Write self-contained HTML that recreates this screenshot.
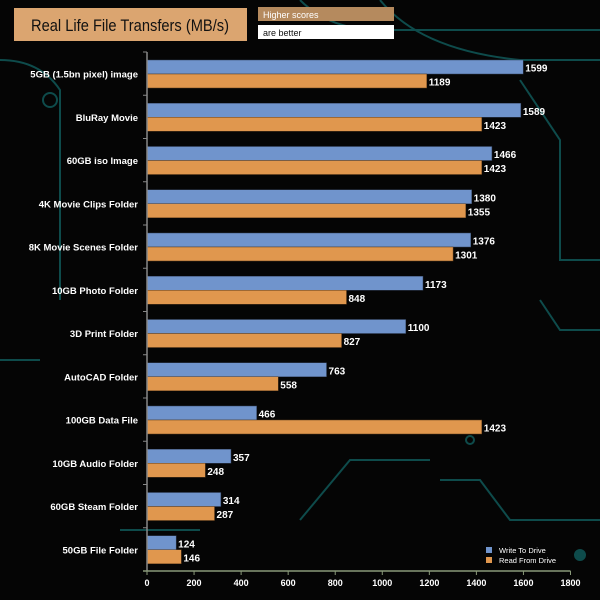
<!DOCTYPE html>
<html><head><meta charset="utf-8"><style>
body{margin:0;background:#050505;width:600px;height:600px;overflow:hidden;font-family:"Liberation Sans",sans-serif}
svg{display:block}
</style></head><body>
<svg id="c" width="600" height="600">
<rect width="600" height="600" fill="#050505"/>
<g fill="none" stroke="#0e4b4b" stroke-width="2">
<path d="M0 60 Q40 60 60 90 L60 300"/><path d="M300 0 Q330 30 380 30 L600 30"/><path d="M380 0 Q420 50 520 60 L600 60"/>
<path d="M520 80 L560 140 L560 260 L600 260"/><path d="M440 480 L480 480 L510 520 L600 520"/><path d="M300 520 L350 460 L430 460"/>
<path d="M0 360 L40 360"/><path d="M600 330 L560 330 L540 300"/><path d="M120 530 L200 530"/>
<circle cx="50" cy="100" r="7"/><circle cx="580" cy="555" r="5" fill="#0e4b4b"/><circle cx="470" cy="440" r="4"/>
</g>
<rect x="14" y="8" width="233" height="33" fill="#dba570"/>
<text x="31" y="31" font-size="17" textLength="198" lengthAdjust="spacingAndGlyphs" fill="#111">Real Life File Transfers (MB/s)</text>
<rect x="258" y="7" width="136" height="14" fill="#b58a5e"/>
<text x="263" y="18" font-size="9" fill="#fff">Higher scores</text>
<rect x="258" y="25" width="136" height="14" fill="#fff"/>
<text x="263" y="36" font-size="9" fill="#111">are better</text>
<g id="plot"></g>
</svg>
<script>
const categories=["5GB (1.5bn pixel) image","BluRay Movie","60GB iso Image","4K Movie Clips Folder","8K Movie Scenes Folder","10GB Photo Folder","3D Print Folder","AutoCAD Folder","100GB Data File","10GB Audio Folder","60GB Steam Folder","50GB File Folder"];
const writeValues=[1599,1589,1466,1380,1376,1173,1100,763,466,357,314,124];
const readValues=[1189,1423,1423,1355,1301,848,827,558,1423,248,287,146];
const xTicks=[0,200,400,600,800,1000,1200,1400,1600,1800];
const NS="http://www.w3.org/2000/svg";
const g=document.getElementById('plot');
const X0=147,X1=570.5,XMAX=1800,Y0=52,Y1=571;
const xs=v=>X0+(v/XMAX)*(X1-X0);
const rowH=(Y1-Y0)/categories.length;
const ys=i=>Y0+i*rowH;
function mk(t,a,txt){const e=document.createElementNS(NS,t);for(const k in a)e.setAttribute(k,a[k]);if(txt!=null)e.textContent=txt;g.appendChild(e);return e;}
categories.forEach((c,i)=>{
 const y=ys(i);
 const b1=mk('rect',{x:X0,y:y+8,width:xs(writeValues[i])-X0,height:14,fill:'#7094cc',stroke:'#33415a','stroke-width':0.5});
 
 
 const b2=mk('rect',{x:X0,y:y+22,width:xs(readValues[i])-X0,height:14,fill:'#e0974e',stroke:'#5a3a1a','stroke-width':0.5});
 
 
 const t1=mk('text',{x:xs(writeValues[i])+2,y:y+19.5,'font-size':10,'font-weight':'bold',fill:'#fff'},writeValues[i]);
 
 
 const t2=mk('text',{x:xs(readValues[i])+2,y:y+33.5,'font-size':10,'font-weight':'bold',fill:'#fff'},readValues[i]);
 
 
 const l=mk('text',{x:138,y:y+rowH/2+4,'font-size':9.5,'font-weight':'bold',fill:'#fff','text-anchor':'end'},c);
 
 
 const tk=mk('line',{x1:X0-4,x2:X0,y1:y,y2:y,stroke:'#888'});
 
 
});
const ya=mk('line',{x1:X0,x2:X0,y1:Y0,y2:Y1,stroke:'#888','stroke-width':1.5});


const xa=mk('line',{x1:X0-4,x2:X1,y1:Y1,y2:Y1,stroke:'#8a9a7a','stroke-width':1.5});


xTicks.forEach(v=>{
 const tk=mk('line',{x1:xs(v),x2:xs(v),y1:Y1,y2:Y1+4,stroke:'#8a9a7a'});
 
 
 const t=mk('text',{x:xs(v),y:Y1+15,'font-size':9,'font-weight':'bold',fill:'#fff','text-anchor':'middle'},v);
 
 
});
const lg1=mk('rect',{x:486,y:547,width:6,height:6,fill:'#7094cc'});


const lt1=mk('text',{x:499,y:553,'font-size':7.5,fill:'#fff'},'Write To  Drive');


const lg2=mk('rect',{x:486,y:557,width:6,height:6,fill:'#e0974e'});


const lt2=mk('text',{x:499,y:563,'font-size':7.5,fill:'#fff'},'Read From  Drive');


</script>
</body></html>
